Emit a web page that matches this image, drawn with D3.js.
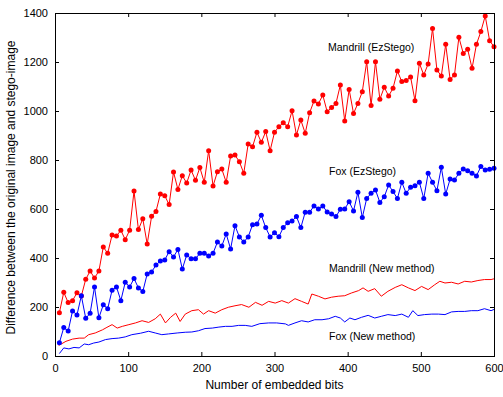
<!DOCTYPE html>
<html>
<head>
<meta charset="utf-8">
<script src="https://cdn.jsdelivr.net/npm/d3@7"></script>
<style>
  html, body { margin: 0; padding: 0; background: #fff; }
  svg { display: block; font-family: "Liberation Sans", Arial, Helvetica, sans-serif; }
</style>
</head>
<body>
<svg id="chart" width="503" height="397"></svg>
<script>
// ---- data ----
const ezBits = [6,12,18,24,30,36,42,48,54,60,66,72,78,84,90,96,102,108,114,120,
  126,132,138,144,150,156,162,168,174,180,186,192,198,204,210,216,222,228,234,240,
  246,252,258,264,270,276,282,288,294,300,306,312,318,324,330,336,342,348,354,360,
  366,372,378,384,390,396,402,408,414,420,426,432,438,444,450,456,462,468,474,480,
  486,492,498,504,510,516,522,528,534,540,546,552,558,564,570,576,582,588,594,600];

const mandrillEz = [177,260,218,226,258,245,313,347,318,347,
  445,419,494,490,513,475,513,673,516,560,
  457,570,590,661,654,618,751,680,736,706,
  759,717,769,709,838,694,752,763,709,816,
  820,793,746,865,854,913,872,916,838,913,
  936,952,936,1001,902,963,909,993,1041,1029,
  1065,997,1014,1031,1106,959,1088,990,1031,1079,
  1201,1022,1201,1048,1097,1061,1093,1163,1120,1124,
  1139,1042,1195,1147,1192,1337,1167,1143,1272,1129,
  1147,1301,1235,1252,1174,1272,1324,1388,1287,1262];

const foxEz = [54,116,102,184,167,246,154,174,282,156,
  209,193,268,282,226,301,282,316,278,263,
  335,343,371,388,392,426,404,435,355,412,
  397,397,419,419,408,419,465,449,498,437,
  532,486,465,486,536,539,574,524,486,503,
  487,524,544,551,569,524,587,587,612,600,
  612,588,580,569,599,600,630,592,668,565,
  643,664,678,627,650,698,671,643,709,664,
  689,695,709,643,746,709,675,770,661,722,
  718,746,763,756,746,735,773,759,762,766];

const mandrillNewBits = [5,15,24,33,40,46,55,65,71,78,85,92,101,110,119,128,137,144,151,158,
  165,171,178,187,196,203,210,219,228,237,246,255,265,274,283,292,301,310,319,328,
  337,346,351,360,369,378,387,396,405,415,421,428,437,446,455,465,474,483,492,501,
  510,519,526,533,542,551,560,569,578,587,596,600];
const mandrillNew = [43,60,69,73,73,87,94,107,117,128,114,121,128,135,144,137,152,171,135,158,
  175,141,171,185,189,171,185,175,189,199,205,210,199,219,207,223,216,226,216,234,
  223,212,253,244,233,240,244,246,257,267,278,264,275,244,264,280,291,278,267,284,
  271,291,305,298,301,294,305,302,308,312,312,315];

const foxNewBits = [6,12,19,26,33,40,46,53,60,69,78,87,96,105,117,128,137,146,155,167,
  178,187,196,205,215,224,233,242,251,260,269,280,292,303,315,319,328,337,346,355,
  365,374,383,390,396,403,410,419,428,437,446,455,465,474,483,489,496,505,515,524,
  533,542,551,560,569,578,587,596,600];
const foxNew = [10,33,29,35,33,49,46,53,57,67,71,73,78,87,93,101,94,87,90,94,
  97,98,103,112,114,118,121,121,125,125,121,132,135,135,131,125,135,144,139,148,
  148,152,162,155,139,155,148,158,166,155,162,169,165,171,158,185,165,169,171,171,
  169,180,182,182,185,185,193,185,190];

const xTicks = [0,100,200,300,400,500,600];
const yTicks = [0,200,400,600,800,1000,1200,1400];

const labels = [
  {text: "Mandrill (EzStego)", x: 328, y: 48},
  {text: "Fox (EzStego)", x: 329, y: 172},
  {text: "Mandrill (New method)", x: 329, y: 269},
  {text: "Fox (New method)", x: 329, y: 337}
];

// ---- chart ----
const svg = d3.select("#chart");
const L = 55, R = 494, T = 13, B = 356;
const x = d3.scaleLinear().domain([0, 600]).range([L, R]);
const y = d3.scaleLinear().domain([0, 1400]).range([B, T]);

const line = d3.line().x(d => x(d[0])).y(d => y(d[1]));

function drawLine(bits, vals, color) {
  svg.append("path")
    .datum(bits.map((b, i) => [b, vals[i]]))
    .attr("fill", "none")
    .attr("stroke", color)
    .attr("stroke-width", 1)
    .attr("d", line);
}
function drawMarkers(bits, vals, color) {
  svg.append("g").selectAll("circle")
    .data(bits.map((b, i) => [b, vals[i]]))
    .join("circle")
    .attr("cx", d => x(d[0]))
    .attr("cy", d => y(d[1]))
    .attr("r", 2.5)
    .attr("fill", color);
}

drawLine(mandrillNewBits, mandrillNew, "#ff0000");
drawLine(foxNewBits, foxNew, "#0000ff");
drawLine(ezBits, mandrillEz, "#ff0000");
drawMarkers(ezBits, mandrillEz, "#ff0000");
drawLine(ezBits, foxEz, "#0000ff");
drawMarkers(ezBits, foxEz, "#0000ff");

// axes
const fs = "11px";
const fmt = d3.format("d");
const gx = svg.append("g").attr("transform", `translate(0,${B})`)
  .call(d3.axisBottom(x).tickValues(xTicks).tickFormat(fmt).tickSizeInner(-4).tickSizeOuter(0).tickPadding(8));
const gxt = svg.append("g").attr("transform", `translate(0,${T})`)
  .call(d3.axisTop(x).tickValues(xTicks).tickSizeInner(-4).tickSizeOuter(0).tickFormat(""));
const gy = svg.append("g").attr("transform", `translate(${L},0)`)
  .call(d3.axisLeft(y).tickValues(yTicks).tickFormat(fmt).tickSizeInner(-4).tickSizeOuter(0).tickPadding(7));
const gyr = svg.append("g").attr("transform", `translate(${R},0)`)
  .call(d3.axisRight(y).tickValues(yTicks).tickSizeInner(-4).tickSizeOuter(0).tickFormat(""));

[gx, gxt, gy, gyr].forEach(g => {
  g.select(".domain").remove();
  g.selectAll("line").attr("stroke", "#000");
  g.selectAll("text").attr("fill", "#000").style("font-size", fs)
    .style("font-family", '"Liberation Sans", Arial, sans-serif');
});

svg.append("rect")
  .attr("x", L + 0.5).attr("y", T + 0.5)
  .attr("width", R - L).attr("height", B - T)
  .attr("fill", "none").attr("stroke", "#000").attr("stroke-width", 1);

// axis labels
svg.append("text")
  .attr("x", (L + R) / 2).attr("y", 389)
  .attr("text-anchor", "middle")
  .style("font-size", "12px")
  .text("Number of embedded bits");

svg.append("text")
  .attr("transform", `translate(12,${(T + B) / 2 + 3}) rotate(-90)`)
  .attr("text-anchor", "middle")
  .attr("dominant-baseline", "middle")
  .style("font-size", "12px")
  .text("Difference between the original image and stego-image");

// annotations
svg.append("g").selectAll("text")
  .data(labels)
  .join("text")
  .attr("x", d => d.x).attr("y", d => d.y)
  .attr("dominant-baseline", "middle")
  .style("font-size", "10.5px")
  .text(d => d.text);
</script>
</body>
</html>
